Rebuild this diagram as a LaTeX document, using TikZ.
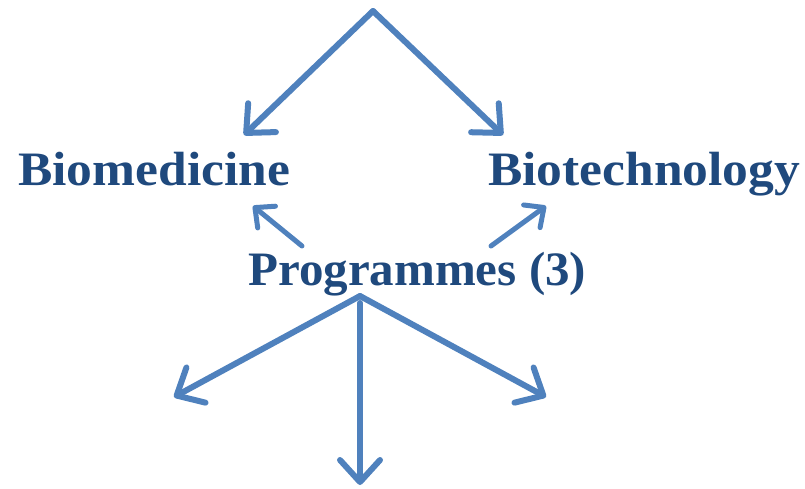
\documentclass[tikz,border=0pt]{standalone}
\usepackage{fontspec}
\setmainfont{Liberation Serif}
\usetikzlibrary{arrows.meta}
\definecolor{arrowblue}{HTML}{4F81BD}
\definecolor{textblue}{HTML}{1F497D}
\newcommand\fitwidth[2]{\resizebox{#1}{\height}{#2}}
\tikzset{
  lbl/.style={anchor=base west, inner sep=0pt, text=textblue, font=\fontsize{48}{52}\selectfont\bfseries},
  bigarrow/.style={draw=arrowblue, line width=6pt, line cap=round, line join=round,
    -{Straight Barb[length=22pt,width=40pt,line cap=round,line join=round]}},
  smallarrow/.style={draw=arrowblue, line width=5pt, line cap=round, line join=round,
    -{Straight Barb[length=15pt,width=28pt,line cap=round,line join=round]}}
}
\begin{document}
\begin{tikzpicture}[x=1pt,y=-1pt]
\useasboundingbox (0,0) rectangle (805,488);
\node[lbl] (biomed) at (18,185) {\fitwidth{272pt}{Biomedicine}};
\node[lbl] (biotech) at (488,185) {\fitwidth{312pt}{Biotechnology}};
\node[lbl] (prog) at (248,285) {\fitwidth{338pt}{Programmes (3)}};
\coordinate (top) at (373,11);
\coordinate (tl) at (244,135);
\coordinate (tr) at (503,135);
\coordinate (pbl) at (302,246);
\coordinate (bmtip) at (253,206);
\coordinate (pbr) at (491,246);
\coordinate (bttip) at (546,206);
\coordinate (bot) at (360,296);
\coordinate (botv) at (360,303);
\coordinate (bl) at (174,397);
\coordinate (bm) at (360,485);
\coordinate (br) at (546,397);
\draw[bigarrow] (top) -- (tl);
\draw[bigarrow] (top) -- (tr);
\draw[smallarrow] (pbl) -- (bmtip);
\draw[smallarrow] (pbr) -- (bttip);
\draw[bigarrow] (bot) -- (bl);
\draw[bigarrow] (bot) -- (br);
\draw[bigarrow] (botv) -- (bm);
\end{tikzpicture}
\end{document}
